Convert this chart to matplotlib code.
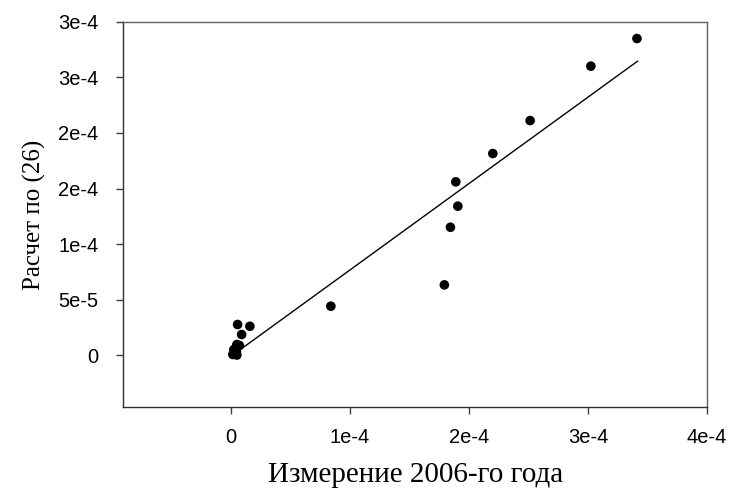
import matplotlib
matplotlib.use("Agg")
import matplotlib.pyplot as plt

# measured values (x: Измерение 2006-го года, y: Расчет по (26))
meas_x = [3.411e-4, 3.024e-4, 2.514e-4, 2.201e-4, 1.890e-4, 1.907e-4, 1.845e-4,
          1.794e-4, 0.841e-4, 0.058e-4, 0.161e-4, 0.092e-4, 0.052e-4, 0.073e-4,
          0.027e-4, 0.048e-4, 0.018e-4, 0.052e-4, 0.035e-4]
calc_y = [2.851e-4, 2.602e-4, 2.112e-4, 1.815e-4, 1.560e-4, 1.341e-4, 1.151e-4,
          0.632e-4, 0.440e-4, 0.275e-4, 0.259e-4, 0.185e-4, 0.095e-4, 0.086e-4,
          0.050e-4, 0.032e-4, 0.005e-4, 0.000e-4, 0.010e-4]

# regression line endpoints
fit_x = [0.018e-4, 3.416e-4]
fit_y = [0.0003e-4, 2.647e-4]

x_ticks = [0, 1e-4, 2e-4, 3e-4, 4e-4]
x_tick_labels = ["0", "1e-4", "2e-4", "3e-4", "4e-4"]
y_ticks = [0, 5e-5, 1e-4, 1.5e-4, 2e-4, 2.5e-4, 3e-4]
y_tick_labels = ["0", "5e-5", "1e-4", "2e-4", "2e-4", "3e-4", "3e-4"]

fig = plt.figure(figsize=(7.32, 4.95), dpi=100)
ax = fig.add_axes([0.1687, 0.1778, 0.7973, 0.7778])

ax.plot(fit_x, fit_y, color="black", linewidth=1.0, zorder=2)
ax.scatter(meas_x, calc_y, s=48, color="black", edgecolors="none", zorder=3)

ax.set_xlim(-0.90e-4, 4.0e-4)
ax.set_ylim(-4.68e-5, 3.0e-4)

ax.set_xticks(x_ticks)
ax.set_xticklabels(x_tick_labels, family="Liberation Sans", fontsize=14.5)
ax.set_yticks(y_ticks)
ax.set_yticklabels(y_tick_labels, family="Liberation Sans", fontsize=14.5)
ax.tick_params(direction="out", length=5, width=1, color="#404040")
ax.tick_params(axis="x", pad=10)
ax.tick_params(axis="y", pad=13)

for side, sp in ax.spines.items():
    sp.set_linewidth(1.0)
    sp.set_color("#303030" if side in ("left", "bottom") else "#606060")

ax.set_xlabel("Измерение 2006-го года", family="Liberation Serif", fontsize=21, labelpad=11)
ax.set_ylabel("Расчет по (26)", family="Liberation Serif", fontsize=18, labelpad=9)

fig.savefig("out.png", dpi=100, facecolor="white")
